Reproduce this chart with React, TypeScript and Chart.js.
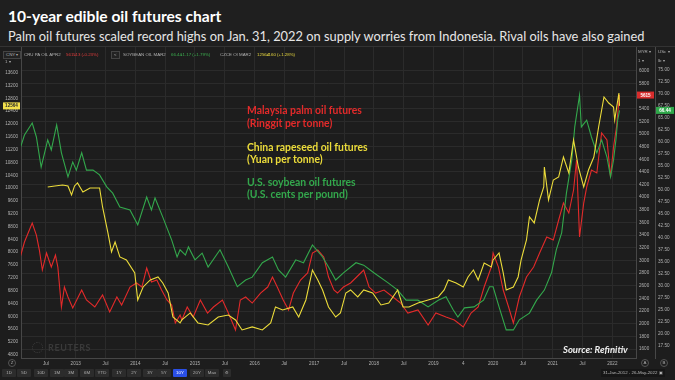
import React, { useEffect, useRef } from 'react';
import { Chart, registerables } from 'chart.js';

Chart.register(...registerables);

// ---------- data (decimal years / native units) ----------
const palmYears = [2012.07, 2012.14, 2012.27, 2012.34, 2012.39, 2012.44, 2012.51, 2012.59, 2012.66, 2012.70,
  2012.76, 2012.81, 2012.87, 2012.95, 2013.10, 2013.18, 2013.32, 2013.45, 2013.57, 2013.69,
  2013.77, 2013.91, 2014.02, 2014.11, 2014.19, 2014.27, 2014.36, 2014.44, 2014.53, 2014.61,
  2014.67, 2014.75, 2014.78, 2014.87, 2014.97, 2015.09, 2015.21, 2015.31, 2015.46, 2015.56,
  2015.68, 2015.76, 2015.85, 2015.96, 2016.10, 2016.22, 2016.30, 2016.38, 2016.48, 2016.57,
  2016.65, 2016.77, 2016.89, 2016.97, 2017.06, 2017.16, 2017.24, 2017.33, 2017.39, 2017.49,
  2017.61, 2017.78, 2017.83, 2017.92, 2018.03, 2018.17, 2018.32, 2018.45, 2018.57, 2018.74,
  2018.91, 2019.04, 2019.21, 2019.35, 2019.50, 2019.63, 2019.75, 2019.85, 2019.97, 2020.00,
  2020.09, 2020.17, 2020.26, 2020.34, 2020.44, 2020.56, 2020.68, 2020.78, 2020.90, 2021.01,
  2021.10, 2021.18, 2021.27, 2021.35, 2021.40, 2021.45, 2021.52, 2021.57, 2021.65, 2021.74,
  2021.82, 2021.91, 2021.97, 2022.02, 2022.07, 2022.12];
const palmValues = [3055, 3292, 3592, 3402, 3165, 2849, 3118, 2896, 3086, 2896,
  2264, 2580, 2422, 2248, 2533, 2375, 2264, 2454, 2185, 2422,
  2296, 2580, 2644, 2580, 2881, 2659, 2691, 2533, 2375, 2296,
  2011, 2138, 2059, 2264, 2106, 2375, 2169, 2264, 2375, 2169,
  1900, 2375, 2422, 2327, 2485, 2580, 2738, 2580, 2375, 2217,
  2485, 2691, 2802, 3118, 3165, 3055, 2738, 2533, 2485, 2580,
  2644, 2802, 2849, 2580, 2485, 2533, 2422, 2327, 2169, 2217,
  1980, 2169, 2106, 2059, 1948, 2169, 2264, 2580, 2896, 3118,
  2896, 2533, 2264, 2011, 2422, 2738, 2896, 3118, 3371, 3323,
  3640, 3908, 3750, 4114, 4588, 3371, 3908, 4161, 4430, 4383,
  5015, 4904, 4319, 4794, 5110, 5615];

const soyYears = [2012.07, 2012.14, 2012.27, 2012.34, 2012.42, 2012.53, 2012.59, 2012.68, 2012.76, 2012.87,
  2012.95, 2013.01, 2013.10, 2013.18, 2013.29, 2013.40, 2013.52, 2013.62, 2013.74, 2013.91,
  2014.04, 2014.19, 2014.27, 2014.33, 2014.46, 2014.61, 2014.70, 2014.75, 2014.84, 2014.89,
  2015.00, 2015.12, 2015.22, 2015.42, 2015.56, 2015.71, 2015.85, 2015.96, 2016.13, 2016.30,
  2016.40, 2016.52, 2016.69, 2016.82, 2016.97, 2017.14, 2017.24, 2017.36, 2017.49, 2017.70,
  2017.83, 2018.00, 2018.24, 2018.40, 2018.54, 2018.74, 2018.91, 2019.08, 2019.21, 2019.33,
  2019.41, 2019.52, 2019.68, 2019.84, 2019.94, 2020.00, 2020.10, 2020.22, 2020.34, 2020.44,
  2020.61, 2020.73, 2020.86, 2020.98, 2021.06, 2021.15, 2021.23, 2021.32, 2021.37, 2021.45,
  2021.48, 2021.57, 2021.65, 2021.74, 2021.82, 2021.91, 2021.97, 2022.02, 2022.06, 2022.09, 2022.12];
const soyValues = [58.6, 61.3, 63.8, 60.9, 54.6, 60.3, 58.2, 63.4, 57.6, 52.6,
  55.7, 54.0, 57.6, 54.0, 54.0, 53.0, 50.5, 49.2, 46.3, 45.7,
  42.6, 48.4, 45.7, 48.2, 44.2, 39.4, 35.9, 37.4, 36.3, 38.0,
  35.3, 36.7, 33.8, 37.4, 33.8, 29.7, 31.1, 31.7, 34.7, 35.9,
  33.2, 31.7, 35.3, 34.7, 38.4, 35.9, 33.8, 31.1, 32.6, 34.7,
  34.2, 32.6, 30.5, 29.0, 26.9, 26.9, 25.5, 26.9, 27.6, 24.9,
  23.4, 25.3, 25.5, 26.9, 29.7, 29.7, 25.5, 20.7, 20.7, 22.8,
  24.2, 26.9, 29.0, 32.6, 37.4, 40.9, 49.2, 56.1, 63.0, 69.6,
  63.0, 64.4, 60.9, 57.6, 60.3, 56.7, 52.6, 56.1, 60.3, 64.4, 66.44];

const rapeYears = [2012.53, 2012.65, 2012.78, 2012.87, 2012.93, 2012.98, 2013.03, 2013.12, 2013.24, 2013.40,
  2013.45, 2013.54, 2013.60, 2013.66, 2013.74, 2013.85, 2013.99, 2014.04, 2014.13, 2014.25,
  2014.38, 2014.46, 2014.55, 2014.63, 2014.75, 2014.78, 2014.92, 2015.05, 2015.22, 2015.39,
  2015.56, 2015.68, 2015.79, 2015.96, 2016.13, 2016.27, 2016.35, 2016.47, 2016.64, 2016.74,
  2016.86, 2016.97, 2017.06, 2017.14, 2017.24, 2017.36, 2017.44, 2017.53, 2017.61, 2017.73,
  2017.83, 2017.98, 2018.12, 2018.25, 2018.40, 2018.49, 2018.59, 2018.74, 2018.91, 2019.08,
  2019.18, 2019.25, 2019.38, 2019.50, 2019.58, 2019.67, 2019.75, 2019.85, 2019.97, 2020.00,
  2020.10, 2020.17, 2020.22, 2020.34, 2020.42, 2020.47, 2020.56, 2020.61, 2020.69, 2020.78,
  2020.85, 2020.86, 2020.93, 2021.01, 2021.10, 2021.18, 2021.27, 2021.35, 2021.43, 2021.52,
  2021.60, 2021.69, 2021.77, 2021.86, 2021.94, 2022.02, 2022.04, 2022.11, 2022.12];
const rapeValues = [10034, 10066, 10096, 10066, 9784, 10066, 10159, 9878, 10003, 10003,
  9410, 8599, 8006, 8318, 7850, 7756, 7351, 6508, 6914, 7132,
  7226, 7039, 6726, 5978, 5791, 5885, 6103, 5791, 5728, 5978,
  6040, 5885, 5572, 5666, 5572, 5791, 6290, 6196, 6290, 5978,
  6508, 7444, 7132, 6820, 6290, 5978, 6103, 6726, 6820, 6602,
  6820, 6726, 6352, 6415, 6820, 6290, 6290, 6415, 6508, 6602,
  6820, 7132, 7039, 6914, 7226, 7444, 7132, 7663, 7538, 7756,
  7975, 7351, 6820, 6914, 7226, 7756, 8380, 9098, 8911, 9628,
  10034, 10658, 9628, 10252, 10346, 10970, 10471, 11500, 10658, 10034,
  10564, 10970, 11906, 12842, 12654, 12530, 12124, 12967, 12564];

// ---------- ticks ----------
const cnyTicks = [13600, 13200, 12800, 12400, 12000, 11600, 11200, 10800, 10400, 10000, 9600, 9200,
  8800, 8400, 8000, 7600, 7200, 6800, 6400, 6000, 5600, 5200, 4800];
const myrTicks = [6000, 5800, 5600, 5400, 5200, 5000, 4800, 4600, 4400, 4200, 4000, 3800, 3600,
  3400, 3200, 3000, 2800, 2600, 2400, 2200, 2000, 1800, 1600];
const uscTicks = [75, 72.5, 70, 67.5, 65, 62.5, 60, 57.5, 55, 52.5, 50, 47.5, 45, 42.5, 40, 37.5,
  35, 32.5, 30, 27.5, 25, 22.5, 20, 17.5];
const xTickValues = [2012.5, 2013, 2013.5, 2014, 2014.5, 2015, 2015.5, 2016, 2016.5, 2017, 2017.5,
  2018, 2018.5, 2019, 2019.5, 2020, 2020.5, 2021, 2021.5, 2022];
const xTickLabels = ['Jul', '2013', 'Jul', '2014', 'Jul', '2015', 'Jul', '2016', 'Jul', '2017', 'Jul',
  '2018', 'Jul', '2019', '4', '2020', 'Jul', '2021', 'Jul', '2022'];

const xStart = 2012.082; // 31-Jan-2012
const xEnd = 2022.397;   // 26-May-2022

const rangeButtons = ['1D', '5D', '10D', '1M', '3M', '6M', 'YTD', '1Y', '2Y', '3Y', '5Y', '10Y', '20Y', 'Max'];

const RED = '#e32a2a';
const YELLOW = '#ecdc3a';
const GREEN = '#33a84c';
const BG = '#1d1d1d';
const GRID = '#2b2b2b';
const AXISLINE = '#474747';
const TICKCOL = '#b2b2b2';

const tagPlugin = {
  id: 'valueTags',
  afterDraw(chart: any) {
    const ctx = chart.ctx;
    const defs = [
      { id: 'yL', v: rapeValues[rapeValues.length - 1], t: String(rapeValues[rapeValues.length - 1]), bg: '#f2e04c', fg: '#2a2a2a', l: 3, r: 1 },
      { id: 'yP', v: palmValues[palmValues.length - 1], t: String(palmValues[palmValues.length - 1]), bg: '#d82c2c', fg: '#ffffff', l: 1, r: 1 },
      { id: 'yS', v: soyValues[soyValues.length - 1], t: soyValues[soyValues.length - 1].toFixed(2), bg: '#2fa84a', fg: '#ffffff', l: 1, r: 1 },
    ];
    ctx.save();
    for (const d of defs) {
      const s = chart.scales[d.id];
      const y = s.getPixelForValue(d.v);
      const x0 = s.left + d.l;
      const w = s.right - s.left - d.l - d.r;
      ctx.fillStyle = d.bg;
      ctx.fillRect(x0, y - 3.5, w, 7);
      ctx.fillStyle = d.fg;
      ctx.font = 'bold 4.6px "Liberation Sans", Arial, sans-serif';
      ctx.textAlign = 'center';
      ctx.textBaseline = 'middle';
      ctx.fillText(d.t, x0 + w / 2, y + 0.3);
    }
    ctx.restore();
  },
};

const abs = (left: number, top: number, extra: any = {}) => ({
  position: 'absolute' as const, left, top, whiteSpace: 'nowrap' as const, lineHeight: 1, ...extra,
});

export default function App() {
  const ref = useRef<HTMLCanvasElement>(null);

  useEffect(() => {
    document.body.style.margin = '0';
    document.body.style.background = BG;
    const canvas = ref.current!;
    const tickFont = { family: '"Liberation Sans", Arial, sans-serif', size: 4.6 };
    const chart = new Chart(canvas, {
      type: 'line',
      data: {
        datasets: [
          { label: 'CZCE OI MAR2', data: rapeYears.map((x, i) => ({ x, y: rapeValues[i] })), yAxisID: 'yL', borderColor: YELLOW, order: 1 },
          { label: 'SOYBEAN OIL MAR2', data: soyYears.map((x, i) => ({ x, y: soyValues[i] })), yAxisID: 'yS', borderColor: GREEN, order: 2 },
          { label: 'CRU PA OIL APR2', data: palmYears.map((x, i) => ({ x, y: palmValues[i] })), yAxisID: 'yP', borderColor: RED, order: 3 },
        ],
      },
      options: {
        responsive: false,
        animation: false,
        layout: { padding: { top: 47, bottom: 12, left: 0, right: 0 } },
        plugins: { legend: { display: false }, tooltip: { enabled: false } },
        elements: { point: { radius: 0 }, line: { borderWidth: 1.1, tension: 0 } },
        scales: {
          x: {
            type: 'linear', position: 'bottom', min: xStart, max: xEnd,
            afterBuildTicks: (s: any) => { s.ticks = xTickValues.map((v) => ({ value: v })); },
            afterFit: (s: any) => { s.height = 10; },
            ticks: {
              autoSkip: false, maxRotation: 0, padding: 2.7, color: TICKCOL, font: tickFont,
              callback: (v: any) => { const i = xTickValues.indexOf(Number(v)); return i >= 0 ? xTickLabels[i] : ''; },
            },
            grid: { color: GRID, drawTicks: false },
            border: { color: AXISLINE },
          },
          yL: {
            type: 'linear', position: 'left', min: 4697, max: 14402,
            afterBuildTicks: (s: any) => { s.ticks = cnyTicks.map((v) => ({ value: v })); },
            afterFit: (s: any) => { s.width = 21; },
            ticks: { padding: 3, color: TICKCOL, font: tickFont, callback: (v: any) => String(v) },
            grid: { display: false, drawTicks: false },
            border: { color: AXISLINE },
          },
          yP: {
            type: 'linear', position: 'right', min: 1458, max: 6375,
            afterBuildTicks: (s: any) => { s.ticks = myrTicks.map((v) => ({ value: v })); },
            afterFit: (s: any) => { s.width = 19; },
            ticks: { padding: 3, color: TICKCOL, font: tickFont, callback: (v: any) => String(v) },
            grid: { color: GRID, drawTicks: false },
            border: { color: AXISLINE },
          },
          yS: {
            type: 'linear', position: 'right', min: 14.85, max: 79.65,
            afterBuildTicks: (s: any) => { s.ticks = uscTicks.map((v) => ({ value: v })); },
            afterFit: (s: any) => { s.width = 20; },
            ticks: { padding: 3, color: TICKCOL, font: tickFont, callback: (v: any) => Number(v).toFixed(2) },
            grid: { display: false, drawTicks: false },
            border: { color: AXISLINE },
          },
        },
      } as any,
      plugins: [tagPlugin],
    });
    return () => chart.destroy();
  }, []);

  const small = { fontFamily: '"Liberation Sans", Arial, sans-serif', fontSize: 4.4, color: '#b0b0b0' };
  const note = { fontFamily: 'Lato, sans-serif', fontWeight: 700, fontSize: 10.4 };
  const btnX = [9, 24, 41, 57, 71, 87, 102, 119, 134, 150, 164, 180, 197, 212];
  const badge = { ...small, width: 8, height: 8, borderRadius: '50%', border: '1px solid #555', boxSizing: 'border-box', textAlign: 'center', lineHeight: '6px' };

  return (
    <div style={{ position: 'relative', width: 675, height: 380, background: BG, overflow: 'hidden', fontFamily: 'Lato, sans-serif' }}>
      <canvas ref={ref} width={675} height={380} style={{ position: 'absolute', left: 0, top: 0 }} />

      {/* title block */}
      <div style={{ position: 'absolute', left: 0, top: 0, width: 675, height: 47, background: '#1f1f1f', borderBottom: '1px solid #333', boxSizing: 'border-box' }} />
      <div style={abs(8, 9, { color: '#ffffff', fontWeight: 700, fontSize: 15.6 })}>10-year edible oil futures chart</div>
      <div style={abs(8, 29.5, { color: '#e6e6e6', fontSize: 12.85 })}>
        Palm oil futures scaled record highs on Jan. 31, 2022 on supply worries from Indonesia. Rival oils have also gained
      </div>

      {/* legend row */}
      <div style={abs(3, 51, { ...small, border: '1px solid #444', padding: '1px 2px', background: '#222' })}>CNY ▾</div>
      <div style={abs(5, 60, small)}>1 ▾</div>
      <div style={abs(24, 52.5, small)}>CRU PA OIL APR2</div>
      <div style={abs(66, 52.5, { ...small, color: '#e03c3c' })}>5615</div>
      <div style={abs(74, 52.5, { ...small, color: '#e03c3c' })}>-13 (-0.23%)</div>
      <div style={abs(111, 50.5, { ...small, border: '1px solid #444', padding: '1px 2px', background: '#222' })}>&lt;</div>
      <div style={abs(123, 52.5, small)}>SOYBEAN OIL MAR2</div>
      <div style={abs(171, 52.5, { ...small, color: '#3cb050' })}>66.44</div>
      <div style={abs(180, 52.5, { ...small, color: '#3cb050' })}>+1.17 (+1.79%)</div>
      <div style={abs(220, 52.5, small)}>CZCE OI MAR2</div>
      <div style={abs(257, 52.5, { ...small, color: '#e8d840' })}>12564</div>
      <div style={abs(266, 52.5, { ...small, color: '#e8d840' })}>+160 (+1.28%)</div>

      {/* right panel headers */}
      <div style={abs(638, 50, small)}>MYR ▾</div>
      <div style={abs(638, 59, small)}>1 ▾</div>
      <div style={abs(658, 50, small)}>USc ▾</div>
      <div style={abs(658, 59, small)}>lb ▾</div>

      {/* annotations */}
      <div style={abs(247, 105, { ...note, color: RED })}>Malaysia palm oil futures</div>
      <div style={abs(247, 118, { ...note, color: RED })}>(Ringgit per tonne)</div>
      <div style={abs(247, 142, { ...note, color: YELLOW })}>China rapeseed oil futures</div>
      <div style={abs(247, 154, { ...note, color: YELLOW })}>(Yuan per tonne)</div>
      <div style={abs(247, 177, { ...note, color: GREEN })}>U.S. soybean oil futures</div>
      <div style={abs(247, 189, { ...note, color: GREEN })}>(U.S. cents per pound)</div>

      {/* watermark + source */}
      <div style={abs(32, 342, { width: 11, height: 11, borderRadius: '50%', border: '1.5px dotted #3c3c3c', boxSizing: 'border-box' })} />
      <div style={abs(48, 343, { color: '#3a3a3a', fontWeight: 700, fontSize: 9, letterSpacing: 0.6, fontFamily: 'Lato, sans-serif' })}>REUTERS</div>
      <div style={abs(563, 345, { color: '#f0f0f0', fontWeight: 700, fontStyle: 'italic', fontSize: 9.5 })}>Source: Refinitiv</div>

      {/* axis corner badges */}
      <div style={abs(8, 359, badge)}>Z</div>
      <div style={abs(641, 359, badge)}>A</div>
      <div style={abs(660, 359, badge)}>B</div>

      {/* range buttons */}
      {rangeButtons.map((b, i) => (
        <div key={b} style={abs(btnX[i] - 7, 369, {
          ...small, width: 14, height: 8, lineHeight: '8px', textAlign: 'center',
          background: b === '10Y' ? '#2a4fe6' : '#2c2c2c', color: b === '10Y' ? '#ffffff' : '#b0b0b0', borderRadius: 1,
        })}>{b}</div>
      ))}
      <div style={abs(223, 369, { ...small, width: 8, height: 8, lineHeight: '8px', textAlign: 'center', background: '#2c2c2c', borderRadius: 1 })}>⚙</div>
      <div style={abs(601, 369, { ...small, height: 8, lineHeight: '8px', padding: '0 2px', background: '#161616', color: '#b8b8b8' })}>31-Jan-2012  -  26-May-2022 ▣</div>
    </div>
  );
}
